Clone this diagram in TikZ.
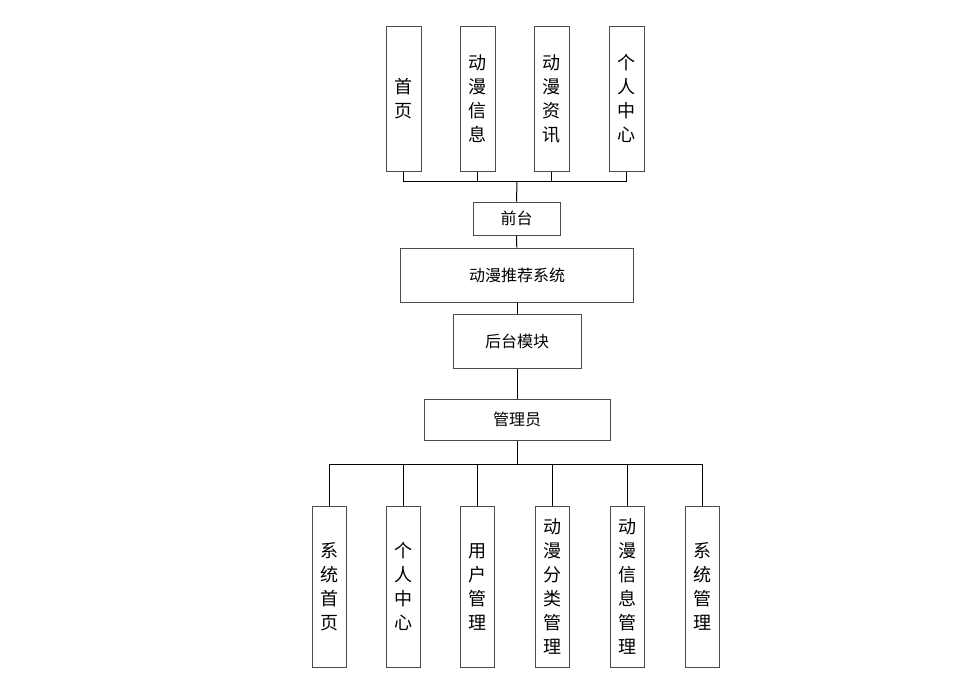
\documentclass[tikz,border=0pt]{standalone}
\usepackage{fontspec}
\newfontfamily\cjk{Noto Sans CJK SC}
\usetikzlibrary{positioning}
\tikzset{x=1pt, y=-1pt,
	every node/.style={
		draw=black!70,
		line width=1pt,
		fill=white,
		inner sep=0pt},
	module/.style={
		font=\cjk\fontsize{16}{19}\selectfont},
	vbox/.style={
		minimum width=35pt,
		align=center,
		font=\cjk\fontsize{18}{24}\selectfont},
	link/.style={
		draw,
		line width=1pt}
}
\begin{document}
\begin{tikzpicture}
				\useasboundingbox (0,0) rectangle (974,681);
				% front end
				\node[vbox, minimum height=145pt] (home) at (403.5,98.5) {首\\页};
				\node[vbox, minimum height=145pt] (info) at (477.5,98.5) {动\\漫\\信\\息};
				\node[vbox, minimum height=145pt] (news) at (551.5,98.5) {动\\漫\\资\\讯};
				\node[vbox, minimum height=145pt] (mine) at (626.5,98.5) {个\\人\\中\\心};
				\coordinate (fbus) at (517,181);
				\node[module, minimum width=87pt, minimum height=33pt] (front) at (516.5,218.5) {前台};
				\node[module, minimum width=233pt, minimum height=54pt] (sys) at (517,275) {动漫推荐系统};
				\node[module, minimum width=128pt, minimum height=54pt] (back) at (517,341) {后台模块};
				\node[module, minimum width=186pt, minimum height=41pt] (admin) at (517,419.5) {管理员};
				\coordinate (bbus) at (517,464);
				% back end
				\node[vbox, minimum width=34pt, minimum height=161pt] (shome) at (329,586.5) {系\\统\\首\\页};
				\node[vbox, minimum width=34pt, minimum height=161pt] (center) at (403,586.5) {个\\人\\中\\心};
				\node[vbox, minimum width=34pt, minimum height=161pt] (user) at (477,586.5) {用\\户\\管\\理};
				\node[vbox, minimum width=34pt, minimum height=161pt] (cate) at (552,586.5) {动\\漫\\分\\类\\管\\理};
				\node[vbox, minimum width=34pt, minimum height=161pt] (anime) at (627,586.5) {动\\漫\\信\\息\\管\\理};
				\node[vbox, minimum width=34pt, minimum height=161pt] (sset) at (702,586.5) {系\\统\\管\\理};
				\draw[link] (home.south) |- (fbus);
				\draw[link] (info.south) |- (fbus);
				\draw[link] (news.south) |- (fbus);
				\draw[link] (mine.south) |- (fbus);
				\draw[link] (fbus) -- (front.north);
				\draw[link] (front) -- (sys);
				\draw[link] (sys) -- (back);
				\draw[link] (back) -- (admin);
				\draw[link] (admin.south) -- (bbus);
				\draw[link] (bbus) -| (shome.north);
				\draw[link] (bbus) -| (center.north);
				\draw[link] (bbus) -| (user.north);
				\draw[link] (bbus) -| (cate.north);
				\draw[link] (bbus) -| (anime.north);
				\draw[link] (bbus) -| (sset.north);
			\end{tikzpicture}
\end{document}
